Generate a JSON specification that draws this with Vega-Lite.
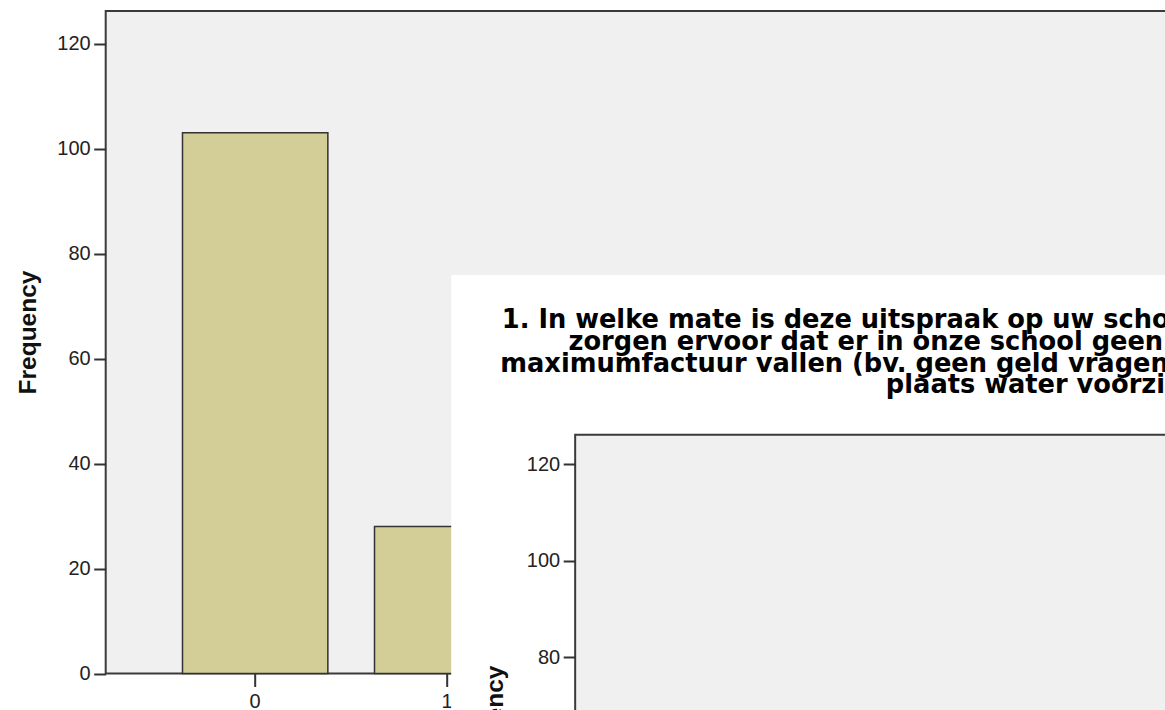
{
  "$schema": "https://vega.github.io/schema/vega-lite/v6.json",
  "background": "white",
  "padding": {"left": 15.7, "top": 11, "right": 0, "bottom": 0},
  "width": 1067,
  "height": 662.5,
  "title": {
    "text": [
      "1. In welke mate is deze uitspraak op uw school van toepassing? Citaat: we",
      "zorgen ervoor dat er in onze school geen kosten zijn die buiten de",
      "maximumfactuur vallen (bv. geen geld vragen voor frisdrankjes, maar in de",
      "plaats water voorzien)"
    ],
    "font": "DejaVu Sans",
    "fontWeight": "bold",
    "fontSize": 25.7,
    "lineHeight": 21.7,
    "color": "#000000",
    "anchor": "middle",
    "frame": "group",
    "dx": 410,
    "offset": -388,
    "zindex": 1
  },
  "config": {
    "axis": {
      "labelFont": "Liberation Sans",
      "labelFontSize": 20,
      "labelColor": "#222222",
      "tickColor": "#333333",
      "tickWidth": 2,
      "tickSize": 12,
      "domain": false,
      "grid": false,
      "titleFont": "Liberation Sans",
      "titleFontSize": 24.5,
      "titleFontWeight": "bold",
      "titleColor": "#111111"
    },
    "view": {"fill": "#f0f0f0", "stroke": "#3a3a3a", "strokeWidth": 2}
  },
  "layer": [
    {
      "data": {"values": [
        {"answer": "0", "frequency": 103},
        {"answer": "1", "frequency": 28}
      ]},
      "mark": {"type": "bar", "fill": "#d3ce97", "stroke": "#333333", "strokeWidth": 1.5},
      "encoding": {
        "x": {
          "field": "answer", "type": "ordinal",
          "scale": {"domain": ["0", "1", "2", "3", "4"], "paddingInner": 0.243, "paddingOuter": 0.4},
          "axis": {"title": null, "labelAngle": 0, "labelPadding": 5, "tickSize": 13}
        },
        "y": {
          "field": "frequency", "type": "quantitative",
          "scale": {"domain": [0, 126.2], "nice": false},
          "axis": {
            "values": [0, 20, 40, 60, 80, 100, 120],
            "title": "Frequency",
            "titleX": -69.8, "titleY": 321, "titleAngle": 270,
            "titleBaseline": "alphabetic", "titleAlign": "center",
            "labelPadding": 3.5
          }
        }
      }
    },
    {
      "data": {"values": [{"panel": "second chart window"}]},
      "mark": {"type": "rect", "fill": "white"},
      "encoding": {
        "x": {"datum": 0.3238, "type": "quantitative", "scale": {"domain": [0, 1]}, "axis": null},
        "x2": {"datum": 1.2},
        "y": {"datum": 75.93, "type": "quantitative", "scale": {"domain": [0, 126.2], "nice": false}, "axis": null},
        "y2": {"datum": -10}
      }
    },
    {
      "data": {"values": [{"panel": "second chart plot area"}]},
      "mark": {"type": "rect", "fill": "#f0f0f0", "stroke": "#3a3a3a", "strokeWidth": 2},
      "encoding": {
        "x": {"datum": 0.44, "type": "quantitative", "scale": {"domain": [0, 1]}, "axis": null},
        "x2": {"datum": 1.2},
        "y": {
          "datum": 126.1, "type": "quantitative",
          "scale": {"domain": [76.64, 213.95], "nice": false, "zero": false},
          "axis": {
            "orient": "left",
            "offset": -469.5,
            "values": [80, 100, 120],
            "title": "Frequency",
            "titleX": -72.7, "titleY": 716, "titleAngle": 270,
            "titleBaseline": "alphabetic", "titleAlign": "center",
            "labelPadding": 3.5,
            "zindex": 1
          }
        },
        "y2": {"datum": 60}
      }
    }
  ],
  "resolve": {"scale": {"x": "independent", "y": "independent"}}
}
